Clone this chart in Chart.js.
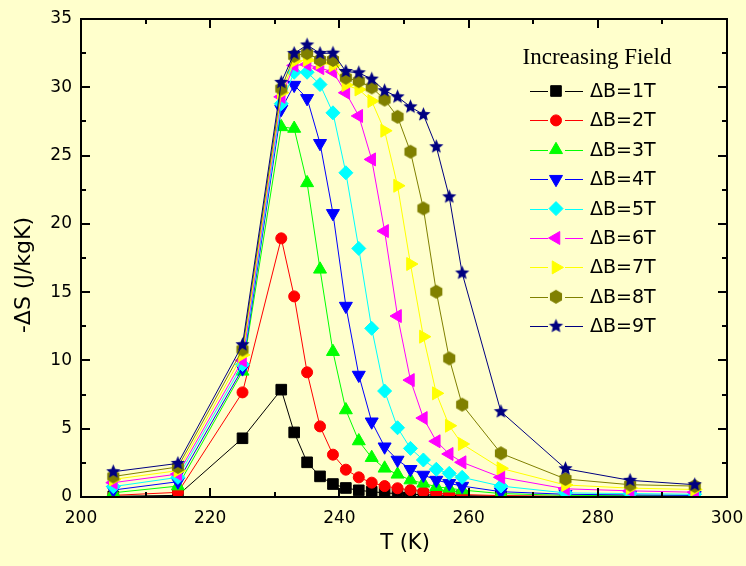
<!DOCTYPE html>
<html><head><meta charset="utf-8">
<script src="https://cdn.jsdelivr.net/npm/chart.js@4/dist/chart.umd.min.js"></script>
<style>html,body{margin:0;padding:0;background:#FFFFCC;}canvas{display:block}</style>
</head><body>
<canvas id="c" width="746" height="566"></canvas>
<script>
// ---- data ----
const temperatures = [205,215,225,231,233,235,237,239,241,243,245,247,249,251,253,255,257,259,265,275,285,295];
const fieldLabels = ['ΔB=1T','ΔB=2T','ΔB=3T','ΔB=4T','ΔB=5T','ΔB=6T','ΔB=7T','ΔB=8T','ΔB=9T'];
const dS1T = [0.05,0.12,4.3,7.86,4.73,2.54,1.51,0.95,0.66,0.49,0.39,0.3,0.25,0.2,0.17,0.14,0.12,0.1,0.06,0.03,0.03,0.03];
const dS2T = [0.12,0.34,7.66,18.94,14.69,9.13,5.17,3.1,2.0,1.44,1.05,0.8,0.64,0.51,0.39,0.27,0.22,0.18,0.1,0.05,0.05,0.05];
const dS3T = [0.31,0.8,9.2,27.1,26.98,23.0,16.67,10.64,6.37,4.1,2.88,2.1,1.66,1.24,1.0,0.75,0.64,0.51,0.25,0.12,0.1,0.08];
const dS4T = [0.51,1.12,9.4,28.4,30.16,29.19,25.9,20.77,13.98,8.93,5.51,3.68,2.71,2.03,1.61,1.24,1.0,0.8,0.39,0.2,0.15,0.12];
const dS5T = [0.76,1.44,9.7,28.8,31.1,31.1,30.2,28.13,23.74,18.2,12.35,7.76,5.07,3.56,2.71,2.03,1.73,1.44,0.8,0.3,0.25,0.2];
const dS6T = [1.05,1.68,10.0,29.3,31.6,31.67,31.4,31.14,29.6,27.9,24.72,19.47,13.25,8.56,5.78,4.08,3.15,2.54,1.44,0.6,0.45,0.35];
const dS7T = [1.29,1.93,10.4,29.6,31.9,32.0,31.8,31.6,30.16,29.84,28.99,26.82,22.79,17.06,11.74,7.59,5.22,3.88,2.1,0.88,0.65,0.55];
const dS8T = [1.5,2.2,10.8,29.9,32.3,32.5,32.0,32.0,30.7,30.45,29.99,29.1,27.84,25.28,21.13,15.03,10.15,6.76,3.2,1.32,0.9,0.8];
const dS9T = [1.85,2.46,11.15,30.36,32.48,33.1,32.48,32.5,31.16,31.06,30.6,29.75,29.3,28.57,28.0,25.65,21.98,16.4,6.25,2.07,1.22,0.9];
const xTickValues = [200,220,240,260,280,300];
const yTickValues = [0,5,10,15,20,25,30,35];
const legendTitle = 'Increasing Field';
const xTitle = 'T (K)';
const yTitle = '-ΔS (J/kgK)';

const seriesValues = [dS1T,dS2T,dS3T,dS4T,dS5T,dS6T,dS7T,dS8T,dS9T];
const colors = ['#000000','#FF0000','#00FF00','#0000FF','#00FFFF','#FF00FF','#FFFF00','#808000','#000080'];

function makeStar(color, R){
  const s = Math.ceil(R*2+2), c = document.createElement('canvas');
  c.width = c.height = s; const g = c.getContext('2d'); const cx=s/2, cy=s/2;
  g.beginPath();
  for(let k=0;k<10;k++){
    const r = k%2===0 ? R : R*0.45;
    const a = -Math.PI/2 + k*Math.PI/5;
    const px = cx + r*Math.cos(a), py = cy + r*Math.sin(a);
    k===0 ? g.moveTo(px,py) : g.lineTo(px,py);
  }
  g.closePath(); g.fillStyle=color; g.fill();
  return c;
}
function makeHex(color, R){
  const s = Math.ceil(R*2+2), c = document.createElement('canvas');
  c.width = c.height = s; const g = c.getContext('2d'); const cx=s/2, cy=s/2;
  g.beginPath();
  for(let k=0;k<6;k++){
    const a = -Math.PI/2 + k*Math.PI/3;
    const px = cx + R*Math.cos(a), py = cy + R*Math.sin(a);
    k===0 ? g.moveTo(px,py) : g.lineTo(px,py);
  }
  g.closePath(); g.fillStyle=color; g.fill();
  return c;
}

const markers = [
  {style:'rect', rot:0, r:7.5},
  {style:'circle', rot:0, r:5.5},
  {style:'triangle', rot:0, r:7.5},
  {style:'triangle', rot:180, r:7.5},
  {style:'rectRot', rot:0, r:7},
  {style:'triangle', rot:270, r:7.5},
  {style:'triangle', rot:90, r:7.5},
  {style:makeHex(colors[7], 7), rot:0, r:7},
  {style:makeStar(colors[8], 7.5), rot:0, r:7.5}
];

const datasets = seriesValues.map((vals, i) => ({
  label: fieldLabels[i],
  data: temperatures.map((t, j) => ({x: t, y: vals[j]})),
  borderColor: colors[i],
  backgroundColor: colors[i],
  borderWidth: 1,
  pointStyle: markers[i].style,
  pointRotation: markers[i].rot,
  pointRadius: markers[i].r,
  pointBorderWidth: 1,
  pointBorderColor: colors[i],
  pointBackgroundColor: colors[i],
  tension: 0,
  fill: false,
  order: 9 - i
}));

const SANS = '"DejaVu Sans", Verdana, sans-serif';

const bgPlugin = {
  id: 'bg',
  beforeDraw(chart){
    const ctx = chart.ctx; ctx.save(); ctx.fillStyle = '#FFFFCC';
    ctx.fillRect(0,0,chart.width,chart.height); ctx.restore();
  }
};

const framePlugin = {
  id: 'frame',
  afterDatasetsDraw(chart){
    const {ctx, chartArea:a, scales:{x, y}} = chart;
    ctx.save();
    ctx.strokeStyle = '#000'; ctx.lineWidth = 2;
    ctx.strokeRect(a.left, a.top, a.right - a.left, a.bottom - a.top);
    ctx.beginPath();
    for (let v = x.min; v <= x.max + 1e-9; v += 10) {
      const p = Math.round(x.getPixelForValue(v));
      const len = (Math.round(v) % 20 === 0) ? 9 : 5;
      ctx.moveTo(p, a.bottom); ctx.lineTo(p, a.bottom - len);
      ctx.moveTo(p, a.top); ctx.lineTo(p, a.top + len);
    }
    for (let v = y.min; v <= y.max + 1e-9; v += 2.5) {
      const p = Math.round(y.getPixelForValue(v));
      const len = (Math.abs(v % 5) < 1e-9) ? 9 : 5;
      ctx.moveTo(a.left, p); ctx.lineTo(a.left + len, p);
      ctx.moveTo(a.right, p); ctx.lineTo(a.right - len, p);
    }
    ctx.stroke();
    // axis titles
    ctx.fillStyle = '#000';
    ctx.font = '21px ' + SANS;
    ctx.textAlign = 'center'; ctx.textBaseline = 'middle';
    ctx.fillText(xTitle, (a.left + a.right) / 2 + 1, 544);
    ctx.save();
    ctx.translate(24, 275);
    ctx.rotate(-Math.PI / 2);
    ctx.font = '22px ' + SANS;
    ctx.fillText(yTitle, 0, 0);
    ctx.restore();
    ctx.restore();
  }
};

const legendPlugin = {
  id: 'customLegend',
  afterDraw(chart){
    const ctx = chart.ctx;
    ctx.save();
    ctx.fillStyle = '#000';
    ctx.font = '23px "Liberation Serif", "Times New Roman", serif';
    ctx.textAlign = 'center'; ctx.textBaseline = 'alphabetic';
    ctx.fillText(legendTitle, 597, 64);
    ctx.font = '19px ' + SANS;
    ctx.textAlign = 'left'; ctx.textBaseline = 'middle';
    chart.data.datasets.forEach((ds, i) => {
      const yy = 91 + i * 29.4;
      ctx.strokeStyle = ds.borderColor; ctx.lineWidth = 1;
      ctx.beginPath();
      ctx.moveTo(530, Math.round(yy)+0.5); ctx.lineTo(548, Math.round(yy)+0.5);
      ctx.moveTo(565, Math.round(yy)+0.5); ctx.lineTo(583, Math.round(yy)+0.5);
      ctx.stroke();
      ctx.fillStyle = ds.pointBackgroundColor; ctx.strokeStyle = ds.pointBorderColor;
      Chart.helpers.drawPoint(ctx, {pointStyle: ds.pointStyle, rotation: ds.pointRotation, radius: ds.pointRadius, borderWidth: 1}, 556, yy);
      ctx.fillStyle = '#000';
      ctx.fillText(ds.label, 590, yy + 1);
    });
    ctx.restore();
  }
};

const tickFont = {family: SANS, size: 17};

new Chart(document.getElementById('c'), {
  type: 'line',
  data: {datasets},
  options: {
    responsive: false,
    devicePixelRatio: 1,
    animation: false,
    layout: {padding: {top: 19, right: 19, left: 0, bottom: 0}},
    plugins: {legend: {display: false}, tooltip: {enabled: false}},
    scales: {
      x: {
        type: 'linear', min: 200, max: 300,
        afterBuildTicks(s){ s.ticks = xTickValues.map(v => ({value: v})); },
        ticks: {autoSkip: false, maxRotation: 0, padding: 11, color: '#000', font: tickFont},
        grid: {display: false, drawTicks: false},
        border: {display: false},
        title: {display: false},
        afterFit(s){ s.height = 69; s.paddingLeft = 0; s.paddingRight = 0; }
      },
      y: {
        type: 'linear', min: 0, max: 35,
        afterBuildTicks(s){ s.ticks = yTickValues.map(v => ({value: v})); },
        ticks: {padding: 9, color: '#000', font: tickFont},
        grid: {display: false, drawTicks: false},
        border: {display: false},
        title: {display: false},
        afterFit(s){ s.width = 81; s.paddingTop = 0; s.paddingBottom = 0; }
      }
    }
  },
  plugins: [bgPlugin, framePlugin, legendPlugin]
});
</script>
</body></html>
